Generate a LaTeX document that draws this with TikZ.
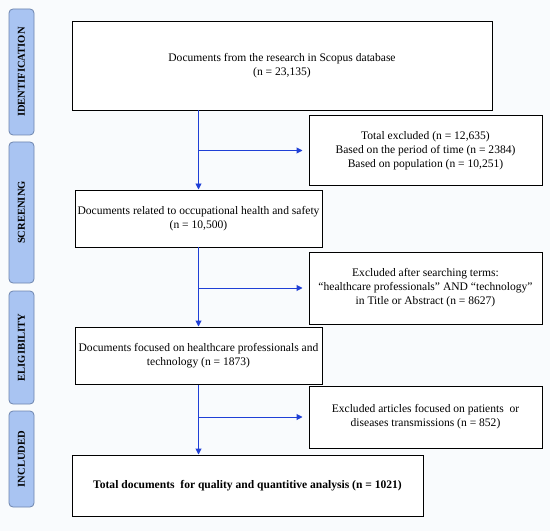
\documentclass[tikz,border=0pt]{standalone}
\usepackage{fontspec}
\setmainfont{Liberation Serif}
\usetikzlibrary{arrows.meta}
\definecolor{bg}{HTML}{F9FBFD}
\definecolor{phasefill}{HTML}{A9C4F2}
\definecolor{phasedraw}{HTML}{6E85AE}
\definecolor{arrowblue}{HTML}{1F3FD6}
\begin{document}
\begin{tikzpicture}[x=1bp,y=-1bp,
  phase/.style={draw=phasedraw,fill=phasefill,line width=0.8pt,rounded corners=4bp,
    minimum width=25bp,inner sep=0pt,font=\fontsize{10.6}{11}\selectfont\bfseries},
  box/.style={draw=black,fill=white,line width=1pt,inner sep=2pt,align=center,
    font=\fontsize{11.6}{14.2}\selectfont},
  flow/.style={draw=arrowblue,line width=1pt,-{Triangle[length=6bp,width=6bp]}}]
\path[fill=bg] (0,0) rectangle (550,531);
\useasboundingbox (0,0) rectangle (550,531);
% phase labels
\node[phase,minimum height=126bp] (pid) at (21.5,72) {\rotatebox{90}{IDENTIFICATION}};
\node[phase,minimum height=141bp] (psc) at (21.5,212.5) {\rotatebox{90}{SCREENING}};
\node[phase,minimum height=113bp] (pel) at (21.5,347.5) {\rotatebox{90}{ELIGIBILITY}};
\node[phase,minimum height=96bp] (pin) at (21.5,459) {\rotatebox{90}{INCLUDED}};
% main boxes
\node[box,minimum width=420bp,minimum height=88bp] (b1) at (282,66)
  {Documents from the research in Scopus database\\(n = 23,135)};
\node[box,minimum width=233bp,minimum height=69bp] (e1) at (425.5,150.5)
  {Total excluded (n = 12,635)\\Based on the period of time (n = 2384)\\Based on population (n = 10,251)};
\node[box,minimum width=247bp,minimum height=57bp] (b2) at (198.5,218.5)
  {Documents related to occupational health and safety\\(n = 10,500)};
\node[box,minimum width=233bp,minimum height=72bp] (e2) at (425.5,288)
  {Excluded after searching terms:\\``healthcare professionals'' AND ``technology''\\in Title or Abstract (n = 8627)};
\node[box,minimum width=247bp,minimum height=57bp] (b3) at (198.5,355.5)
  {Documents focused on healthcare professionals and\\technology (n = 1873)};
\node[box,minimum width=233bp,minimum height=62bp] (e3) at (425.5,417)
  {Excluded articles focused on patients\ \ or\\diseases transmissions (n = 852)};
\node[box,minimum width=351bp,minimum height=61bp,font=\fontsize{11.6}{14.2}\selectfont\bfseries] (b4) at (247.5,485.5)
  {Total documents\ \ for quality and quantitive analysis (n = 1021)};
% connectors
\coordinate (j1) at (b2.north |- e1.west);
\coordinate (j2) at (b2.south |- e2.west);
\coordinate (j3) at (b3.south |- e3.west);
\draw[flow] (b2.north |- b1.south) -- (b2.north);
\draw[flow] (j1) -- ([xshift=-6bp]e1.west);
\draw[flow] (b2.south) -- (b3.north);
\draw[flow] (j2) -- ([xshift=-6bp]e2.west);
\draw[flow] (b3.south) -- (b3.south |- b4.north);
\draw[flow] (j3) -- ([xshift=-6bp]e3.west);
\end{tikzpicture}
\end{document}
